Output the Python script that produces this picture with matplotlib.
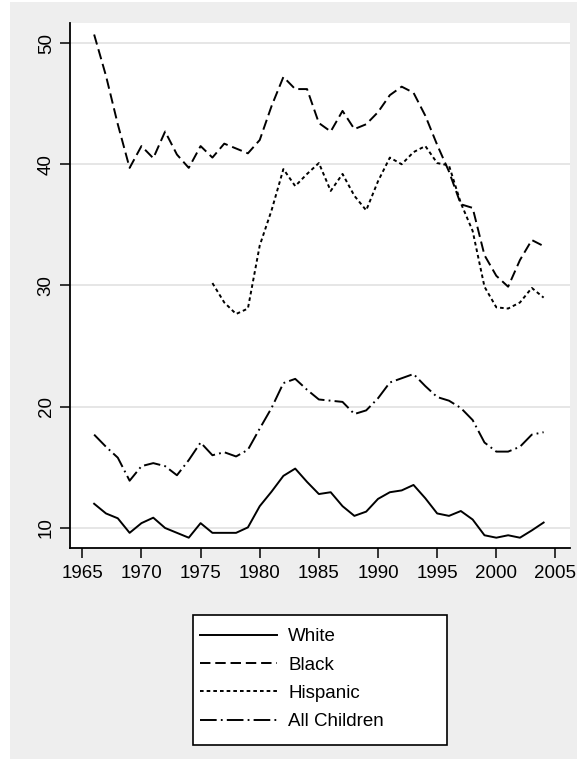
import numpy as np
from matplotlib import pyplot as plt
import matplotlib.patches as mpatches

# poverty rates by group, 1966-2004
years = list(range(1966, 2005))
white = [12.0, 11.2, 10.8, 9.6, 10.4, 10.85, 10.0, 9.6, 9.2, 10.4,
         9.6, 9.6, 9.6, 10.05, 11.8, 13.0, 14.3, 14.9, 13.8, 12.8,
         12.95, 11.8, 11.0, 11.35, 12.4, 12.95, 13.1, 13.55, 12.45, 11.2,
         11.0, 11.4, 10.7, 9.4, 9.2, 9.4, 9.2, 9.8, 10.45]
black = [50.7, 47.3, 43.3, 39.7, 41.5, 40.5, 42.7, 40.8, 39.7, 41.5,
         40.55, 41.7, 41.3, 40.9, 42.0, 44.8, 47.2, 46.2, 46.2, 43.4,
         42.7, 44.4, 42.9, 43.3, 44.3, 45.7, 46.4, 45.9, 44.0, 41.6,
         39.4, 36.7, 36.4, 32.5, 30.8, 29.9, 32.1, 33.75, 33.25]
hisp_years = list(range(1976, 2005))
hispanic = [30.2, 28.6, 27.65, 28.1, 33.3, 36.2, 39.6, 38.2, 39.2, 40.1,
            37.8, 39.2, 37.4, 36.2, 38.6, 40.55, 40.0, 41.0, 41.5, 40.1,
            39.9, 36.8, 34.5, 29.9, 28.2, 28.1, 28.6, 29.8, 29.0]
all_children = [17.7, 16.7, 15.8, 13.9, 15.1, 15.35, 15.1, 14.35, 15.6, 17.05,
                16.0, 16.25, 15.9, 16.45, 18.2, 19.9, 21.95, 22.3, 21.4, 20.6,
                20.5, 20.4, 19.4, 19.7, 20.7, 22.0, 22.35, 22.7, 21.7, 20.8,
                20.5, 19.9, 18.9, 17.05, 16.3, 16.3, 16.7, 17.7, 17.9]
xticks = [1965, 1970, 1975, 1980, 1985, 1990, 1995, 2000, 2005]
yticks = [10, 20, 30, 40, 50]

plt.rcParams['font.family'] = ['Liberation Sans', 'DejaVu Sans']
plt.rcParams['lines.scale_dashes'] = False

W, H = 577, 767
fig = plt.figure(figsize=(W / 100, H / 100), dpi=100)
fig.patch.set_facecolor('white')
# grey graph region
fig.add_artist(mpatches.Rectangle((10 / W, 1 - 759 / H), 567 / W, 757 / H,
                                  transform=fig.transFigure, facecolor='#eeeeee',
                                  edgecolor='none', zorder=-10))

ax = fig.add_axes([70 / W, 1 - 548 / H, 500 / W, 525 / H])
ax.set_facecolor('white')

lw = 1.4
ax.plot(years, white, color='black', lw=lw, label='White')
ax.plot(years, black, color='black', lw=lw, dashes=(7.5, 3.5), label='Black')
ax.plot(hisp_years, hispanic, color='black', lw=lw, dashes=(2.6, 2.2), label='Hispanic')
ax.plot(years, all_children, color='black', lw=lw, dashes=(12, 3, 1.3, 3), label='All Children')

ax.set_xlim(1963.96, 2006.23)
ax.set_ylim(8.35, 51.65)
ax.set_xticks(xticks)
ax.set_yticks(yticks)
ax.yaxis.grid(True, color='#e4e4e4', lw=1.3)
ax.set_axisbelow(True)
for s in ['top', 'right']:
    ax.spines[s].set_visible(False)
for s in ['left', 'bottom']:
    ax.spines[s].set_linewidth(1.3)
ax.tick_params(axis='both', length=7, width=1.1, labelsize=13.5, color='black')
ax.tick_params(axis='x', pad=5)
ax.tick_params(axis='y', pad=4)
for t in ax.get_yticklabels():
    t.set_rotation(90)
    t.set_va('center')

# legend box drawn separately so the padding below the keys stays open
fig.add_artist(mpatches.Rectangle((193 / W, 1 - 745 / H), 254 / W, 130 / H,
                                  transform=fig.transFigure, facecolor='white',
                                  edgecolor='black', lw=1.2, zorder=5))
leg = fig.legend(loc='upper left', bbox_to_anchor=(200 / W, 1 - 628 / H),
                 fontsize=13.5, handlelength=4.1, handletextpad=0.6,
                 labelspacing=0.6, borderpad=0, borderaxespad=0, frameon=False)
leg.set_zorder(6)

plt.savefig('out.png', dpi=100)
